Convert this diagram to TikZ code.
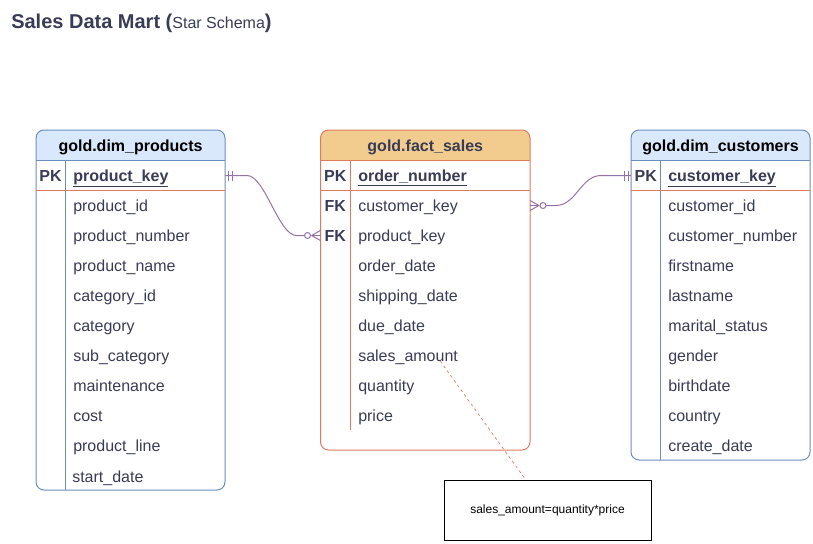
\documentclass[tikz,border=0pt]{standalone}
\usepackage{fontspec}
\setmainfont{Liberation Sans}
\usetikzlibrary{calc}
\definecolor{txt}{HTML}{393C56}
\definecolor{bstroke}{HTML}{6C8EBF}
\definecolor{bfill}{HTML}{DAE8FC}
\definecolor{ostroke}{HTML}{E07A5F}
\definecolor{ofill}{HTML}{F2CC8F}
\definecolor{rel}{HTML}{9673A6}
\tikzset{
  tblb/.style={draw=bstroke, line width=0.75pt, rounded corners=6pt, inner sep=0pt, outer sep=0pt},
  tblo/.style={draw=ostroke, line width=0.75pt, rounded corners=6pt, inner sep=0pt, outer sep=0pt},
  fld/.style={anchor=base west, yshift=-4.5pt, inner sep=0pt, text=txt, font=\fontsize{12}{14}\selectfont},
  key/.style={anchor=base, yshift=-4.5pt, inner sep=0pt, text=txt, font=\fontsize{12}{14}\selectfont\bfseries},
  hdr/.style={anchor=base, yshift=-4.5pt, inner sep=0pt, font=\fontsize{12}{14}\selectfont\bfseries},
  sep/.style={line width=0.75pt},
  relline/.style={draw=rel, line width=0.75pt},
}
\begin{document}
\begin{tikzpicture}[x=0.75pt, y=-0.75pt]
\useasboundingbox (0,0) rectangle (813,543);
% title
\node[anchor=base west, inner sep=0pt, text=txt] (title) at (11,28)
  {{\fontsize{15}{18}\selectfont\bfseries Sales Data Mart (}{\fontsize{12}{14}\selectfont Star Schema}{\fontsize{15}{18}\selectfont\bfseries )}};

% ---------- products ----------
\fill[bfill] (36,160) {[rounded corners=6pt] -- (36,130) -- (225,130)} -- (225,160) -- cycle;
\node[tblb, minimum width=141.75pt, minimum height=270pt] (prod) at (130.5,310) {};
\draw[sep, bstroke] (36,160) -- (225,160);
\draw[sep, ostroke] (36,190) -- (225,190);
\draw[sep, bstroke!70!gray] (65,160) -- (65,490);
\node[hdr] (prodh) at (130.5,145) {gold.dim\_products};
\node[key] (prodpk) at (50.5,175) {PK};
\node[fld] (pkey) at (73,175) {\bfseries\underline{product\_key}};
\node[fld] (p1) at (73,205) {product\_id};
\node[fld] (p2) at (73,235) {product\_number};
\node[fld] (p3) at (73,265) {product\_name};
\node[fld] (p4) at (73,295) {category\_id};
\node[fld] (p5) at (73,325) {category};
\node[fld] (p6) at (73,355) {sub\_category};
\node[fld] (p7) at (73,385) {maintenance};
\node[fld] (p8) at (73,415) {cost};
\node[fld] (p9) at (73,445) {product\_line};
\node[fld] (p10) at (72,476) {start\_date};

% ---------- fact ----------
\fill[ofill] (320.5,160) {[rounded corners=6pt] -- (320.5,130) -- (530,130)} -- (530,160) -- cycle;
\node[tblo, minimum width=157.125pt, minimum height=240pt] (fact) at (425.25,290) {};
\draw[sep, ostroke] (320.5,160) -- (530,160);
\draw[sep, ostroke] (320.5,190) -- (530,190);
\draw[sep, ostroke] (350,160) -- (350,430);
\node[hdr, text=txt] (facth) at (425.25,145) {gold.fact\_sales};
\node[key] (factpk) at (335.25,175) {PK};
\node[key] (factfk1) at (335.25,205) {FK};
\node[key] (factfk2) at (335.25,235) {FK};
\node[fld] (onum) at (358,175) {\bfseries\underline{order\_number}};
\node[fld] (fcust) at (358,205) {customer\_key};
\node[fld] (fprod) at (358,235) {product\_key};
\node[fld] (f3) at (358,265) {order\_date};
\node[fld] (f4) at (358,295) {shipping\_date};
\node[fld] (f5) at (358,325) {due\_date};
\node[fld] (fsales) at (358,355) {sales\_amount};
\node[fld] (f7) at (358,385) {quantity};
\node[fld] (f8) at (358,415) {price};

% ---------- customers ----------
\fill[bfill] (631,160) {[rounded corners=6pt] -- (631,130) -- (810,130)} -- (810,160) -- cycle;
\node[tblb, minimum width=134.25pt, minimum height=247.5pt] (cust) at (720.5,295) {};
\draw[sep, bstroke] (631,160) -- (810,160);
\draw[sep, ostroke] (631,190) -- (810,190);
\draw[sep, bstroke] (660.5,160) -- (660.5,460);
\node[hdr] (custh) at (720.5,145) {gold.dim\_customers};
\node[key] (custpk) at (645.75,175) {PK};
\node[fld] (ckey) at (668,175) {\bfseries\underline{customer\_key}};
\node[fld] (c1) at (668,205) {customer\_id};
\node[fld] (c2) at (668,235) {customer\_number};
\node[fld] (c3) at (668,265) {firstname};
\node[fld] (c4) at (668,295) {lastname};
\node[fld] (c5) at (668,325) {marital\_status};
\node[fld] (c6) at (668,355) {gender};
\node[fld] (c7) at (668,385) {birthdate};
\node[fld] (c8) at (668,415) {country};
\node[fld] (c9) at (668,445) {create\_date};

% ---------- note ----------
\node[draw=black, line width=0.75pt, minimum width=155.25pt, minimum height=45pt, inner sep=0pt,
      font=\fontsize{9}{11}\selectfont] (note) at (547.5,510) {sales\_amount=quantity*price};
\draw[ostroke, line width=0.5pt, dash pattern=on 2.2pt off 2.2pt]
  ($(fsales.base east)+(-18,0)$) -- ($(note.north)+(-22,0)$);

% ---------- relation products -> fact ----------
\coordinate (r1a) at (prod.east |- prodpk);
\coordinate (r1b) at (fact.west |- factfk2);
\draw[relline] (r1a) -- ($(r1a)+(22,0)$) .. controls ($(r1a)+(40,0)$) and ($(r1b)+(-42,0)$) .. ($(r1b)+(-24,0)$) -- ($(r1b)+(-16,0)$);
\draw[relline] ($(r1a)+(3,-5)$) -- ($(r1a)+(3,5)$);
\draw[relline] ($(r1a)+(7,-5)$) -- ($(r1a)+(7,5)$);
\draw[relline, fill=white] ($(r1b)+(-13,0)$) circle[radius=2.25pt];
\draw[relline] ($(r1b)+(-9,0)$) -- (r1b);
\draw[relline] ($(r1b)+(-9,0)$) -- ($(r1b)+(0,-5)$);
\draw[relline] ($(r1b)+(-9,0)$) -- ($(r1b)+(0,5)$);

% ---------- relation fact -> customers ----------
\coordinate (r2a) at (fact.east |- factfk1);
\coordinate (r2b) at (cust.west |- custpk);
\draw[relline] ($(r2a)+(16,0)$) -- ($(r2a)+(26,0)$) .. controls ($(r2a)+(46,0)$) and ($(r2b)+(-50,0)$) .. ($(r2b)+(-30,0)$) -- (r2b);
\draw[relline] ($(r2b)+(-3,-5)$) -- ($(r2b)+(-3,5)$);
\draw[relline] ($(r2b)+(-7,-5)$) -- ($(r2b)+(-7,5)$);
\draw[relline, fill=white] ($(r2a)+(13,0)$) circle[radius=2.25pt];
\draw[relline] ($(r2a)+(9,0)$) -- (r2a);
\draw[relline] ($(r2a)+(9,0)$) -- ($(r2a)+(0,-5)$);
\draw[relline] ($(r2a)+(9,0)$) -- ($(r2a)+(0,5)$);
\end{tikzpicture}
\end{document}
